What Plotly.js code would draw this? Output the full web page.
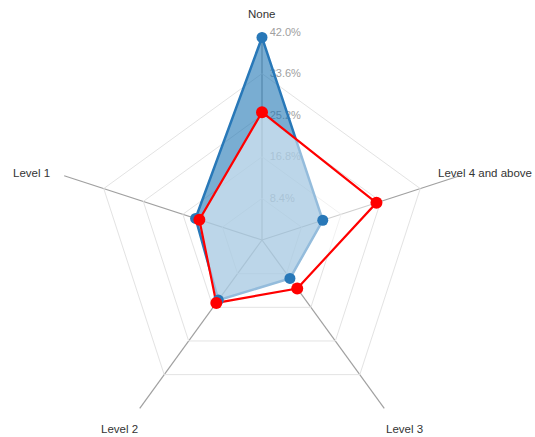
<!DOCTYPE html>
<html>
<head>
<meta charset="utf-8">
<script src="https://cdn.plot.ly/plotly-3.0.1.min.js"></script>
<style>
html, body { margin: 0; padding: 0; overflow: hidden; background: #fff; }
#chart { width: 535px; height: 460px; }
</style>
</head>
<body>
<div id="chart"></div>
<script>
var categories = ['None', 'Level 4 and above', 'Level 3', 'Level 2', 'Level 1'];
var seriesBlue = [40.9, 12.9, 9.6, 15.0, 14.1];
var seriesRed = [25.8, 24.3, 12.1, 15.7, 13.3];
var radialTickVals = [8.4, 16.8, 25.2, 33.6, 42.0];
var radialTickText = ['8.4%', '16.8%', '25.2%', '33.6%', '42.0%'];

function closeLoop(arr) { return arr.concat([arr[0]]); }

var theta = closeLoop(categories);

var W = 535, H = 460;
var domX = [54 / W, 470 / W], domY = [12 / H, 428 / H];

var traces = [
  {
    type: 'scatterpolar', r: closeLoop(seriesBlue), theta: theta,
    mode: 'lines', fill: 'toself', fillcolor: 'rgba(31,119,180,0.6)',
    line: {color: 'rgb(40,120,184)', width: 2.5}, hoverinfo: 'r+theta', subplot: 'polar'
  },
  {
    type: 'scatterpolar', r: closeLoop(seriesRed), theta: theta,
    mode: 'lines', fill: 'toself', fillcolor: 'rgba(255,255,255,0.5)',
    line: {color: 'rgb(255,0,0)', width: 2.2}, hoverinfo: 'r+theta', subplot: 'polar'
  },
  {
    type: 'scatterpolar', r: seriesBlue, theta: categories,
    mode: 'markers', marker: {color: 'rgb(40,120,184)', size: 11},
    hoverinfo: 'r+theta', subplot: 'polar'
  },
  {
    type: 'scatterpolar', r: seriesRed, theta: categories,
    mode: 'markers', marker: {color: 'rgb(255,0,0)', size: 12},
    hoverinfo: 'r+theta', subplot: 'polar'
  }
];

// category labels placed just outside the end of each spoke
var cxPx = (domX[0] + domX[1]) / 2 * W;
var cyPx = (domY[0] + domY[1]) / 2 * H;
var radPx = (domX[1] - domX[0]) * W / 2;
var annotations = categories.map(function (c, i) {
  var ang = (90 - 72 * i) * Math.PI / 180;
  var px = cxPx + 1.163 * radPx * Math.cos(ang);
  var py = cyPx + 1.103 * radPx * Math.sin(ang) - 3.4;
  px = Math.min(px, W - 50);
  return {
    text: c, xref: 'paper', yref: 'paper', x: px / W, y: py / H,
    xanchor: 'center', yanchor: 'middle', showarrow: false,
    font: {size: 11.5, color: '#333', family: 'Liberation Sans, Arial, sans-serif'}
  };
});

var layout = {
  width: W, height: H,
  margin: {l: 0, r: 0, t: 0, b: 0},
  paper_bgcolor: '#fff',
  showlegend: false,
  font: {family: 'Liberation Sans, Arial, sans-serif', size: 12, color: '#333'},
  annotations: annotations,
  polar: {
    domain: {x: domX, y: domY},
    bgcolor: 'rgba(0,0,0,0)',
    gridshape: 'linear',
    radialaxis: {
      range: [0, 42], tickmode: 'array', tickvals: radialTickVals, ticktext: radialTickText,
      angle: 90, tickangle: 90, side: 'clockwise', layer: 'below traces',
      showline: false, ticks: 'outside', ticklen: 5, tickcolor: 'rgba(0,0,0,0)',
      gridcolor: '#e3e3e3', gridwidth: 1,
      tickfont: {size: 11, color: '#a0a0a0', family: 'Liberation Sans, Arial, sans-serif'}
    },
    angularaxis: {
      type: 'category', categoryarray: categories,
      rotation: 90, direction: 'clockwise', layer: 'below traces',
      showline: false, ticks: '', showticklabels: false,
      gridcolor: '#a0a0a0', gridwidth: 1.2
    }
  }
};

Plotly.newPlot('chart', traces, layout, {displayModeBar: false, staticPlot: true});
</script>
</body>
</html>
